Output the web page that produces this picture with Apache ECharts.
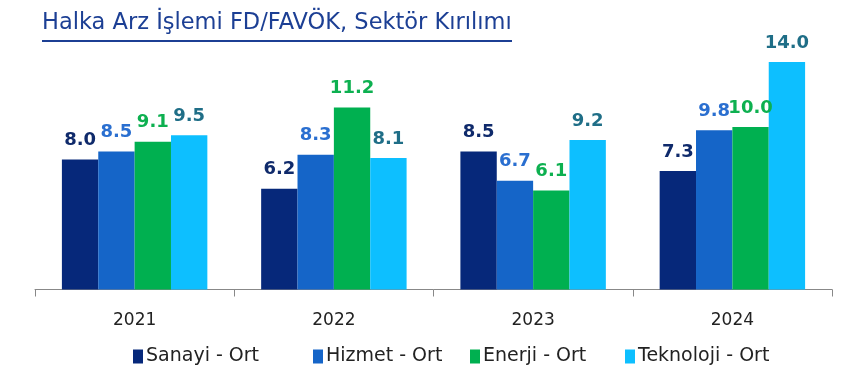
<!DOCTYPE html>
<html>
<head>
<meta charset="utf-8">
<script src="https://cdn.jsdelivr.net/npm/echarts@6/dist/echarts.min.js"></script>
<style>
  html, body { margin: 0; padding: 0; background: #fff; }
  #chart { width: 846px; height: 376px; }
</style>
</head>
<body>
<div id="chart"></div>
<script>
const years = ["2021", "2022", "2023", "2024"];
const sanayi = [8.0, 6.2, 8.5, 7.3];
const hizmet = [8.5, 8.3, 6.7, 9.8];
const enerji = [9.1, 11.2, 6.1, 10.0];
const teknoloji = [9.5, 8.1, 9.2, 14.0];

const names = ["Sanayi - Ort", "Hizmet - Ort", "Enerji - Ort", "Teknoloji - Ort"];
const barColors = ["#06287a", "#1565c8", "#00b050", "#0dbfff"];
const labelColors = ["#0f2a6b", "#2a6fd0", "#0db050", "#1f6e87"];
const legendLeft = [133, 313, 470, 625];
const font = "'DejaVu Sans', sans-serif";

const chart = echarts.init(document.getElementById("chart"));

const mkSeries = (name, data, i) => ({
  name: name,
  type: "bar",
  data: data,
  barGap: "0%",
  barCategoryGap: "27%",
  itemStyle: { color: barColors[i] },
  label: {
    show: true,
    position: "top",
    distance: 10,
    color: labelColors[i],
    fontFamily: font,
    fontWeight: "bold",
    fontSize: 18,
    formatter: (p) => p.value.toFixed(1),
  },
});

chart.setOption({
  animation: false,
  graphic: [
    {
      type: "text",
      left: 42,
      top: 12,
      style: {
        text: "Halka Arz İşlemi FD/FAVÖK, Sektör Kırılımı",
        fontFamily: font,
        fontSize: 22.5,
        fill: "#1c3f94",
      },
    },
    {
      type: "rect",
      left: 42,
      top: 40,
      shape: { width: 470, height: 2 },
      style: { fill: "#1c3f94" },
    },
  ],
  grid: { left: 35, right: 14, top: 29.5, bottom: 86.5 },
  legend: names.map((n, i) => ({
    left: legendLeft[i],
    top: 347,
    padding: 0,
    itemWidth: 10,
    itemHeight: 14,
    icon: "rect",
    textStyle: { fontFamily: font, fontSize: 19, color: "#222", padding: [0, 0, 0, -2] },
    data: [n],
  })),
  xAxis: {
    type: "category",
    data: years,
    axisLine: { lineStyle: { color: "#888", width: 1 } },
    axisTick: { show: true, length: 7, lineStyle: { color: "#888" } },
    axisLabel: { margin: 23, fontFamily: font, fontSize: 17, color: "#222" },
  },
  yAxis: {
    type: "value",
    min: 0,
    max: 16,
    show: false,
    splitLine: { show: false },
  },
  series: [
    mkSeries(names[0], sanayi, 0),
    mkSeries(names[1], hizmet, 1),
    mkSeries(names[2], enerji, 2),
    mkSeries(names[3], teknoloji, 3),
  ],
});
</script>
</body>
</html>
